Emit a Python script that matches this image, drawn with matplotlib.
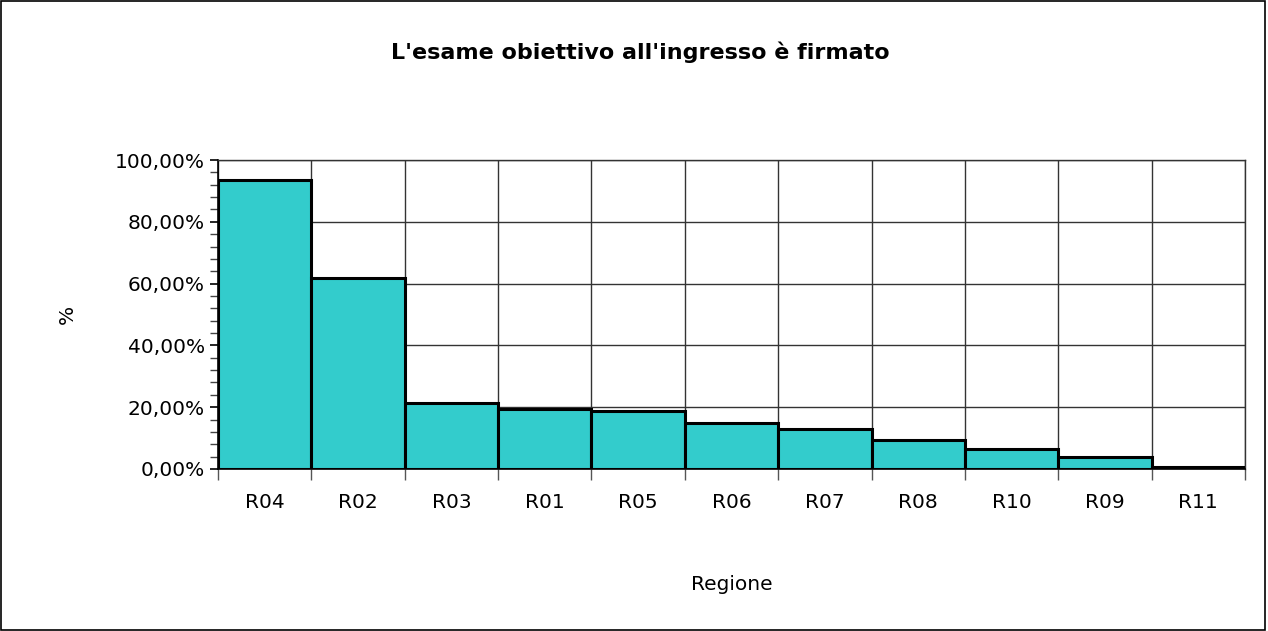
import matplotlib.pyplot as plt
from matplotlib.ticker import FuncFormatter, MultipleLocator, FixedLocator
import numpy as np

regioni = ["R04", "R02", "R03", "R01", "R05", "R06", "R07", "R08", "R10", "R09", "R11"]
percentuali = [93.4, 61.7, 21.3, 19.5, 18.7, 14.9, 13.1, 9.4, 6.6, 4.0, 0.7]

fig = plt.figure(figsize=(12.68, 6.31), dpi=100)
ax = fig.add_axes([218/1268, 1-469/631, (1245-218)/1268, (469-160)/631])

x = np.arange(len(regioni))
ax.bar(x, percentuali, width=1.0, color="#33CCCC", edgecolor="black",
       linewidth=2.2, zorder=3)

ax.set_xlim(-0.5, len(regioni) - 0.5)
ax.set_ylim(0, 100)

# category boundaries carry the gridlines, centres carry the labels
ax.xaxis.set_major_locator(FixedLocator(np.arange(len(regioni) + 1) - 0.5))
ax.xaxis.set_minor_locator(FixedLocator(x))
ax.set_xticklabels([], minor=False)
ax.set_xticklabels(regioni, minor=True, fontsize=14.5)
ax.tick_params(axis="x", which="major", length=8, width=1, color="#555555")
ax.tick_params(axis="x", which="minor", length=0, pad=17)

ax.yaxis.set_major_locator(MultipleLocator(20))
ax.yaxis.set_minor_locator(MultipleLocator(4))
ax.yaxis.set_major_formatter(FuncFormatter(lambda v, p: f"{v:.2f}".replace(".", ",") + "%"))
ax.tick_params(axis="y", which="major", length=6, width=1.2, labelsize=14.5)
ax.tick_params(axis="y", which="minor", length=6, width=1, color="#444444")

ax.grid(True, which="major", color="#333333", linewidth=1, zorder=0)
ax.set_axisbelow(True)
for s in ["top", "right"]:
    ax.spines[s].set_color("#333333")
    ax.spines[s].set_linewidth(1)
ax.spines["left"].set_linewidth(1.2)
ax.spines["bottom"].set_linewidth(1.2)

ax.set_xlabel("Regione", fontsize=14.5, labelpad=46)
ax.set_ylabel("%", fontsize=14.5, labelpad=27)

fig.text(0.505, 1-52/631, "L'esame obiettivo all'ingresso è firmato",
         ha="center", va="center", fontsize=16, fontweight="bold")

# outer frame around the whole chart
fig.patches.append(plt.Rectangle((0.001, 0.002), 0.997, 0.996, transform=fig.transFigure,
                                 fill=False, edgecolor="black", linewidth=1.2))

fig.savefig("out.png", dpi=100)
